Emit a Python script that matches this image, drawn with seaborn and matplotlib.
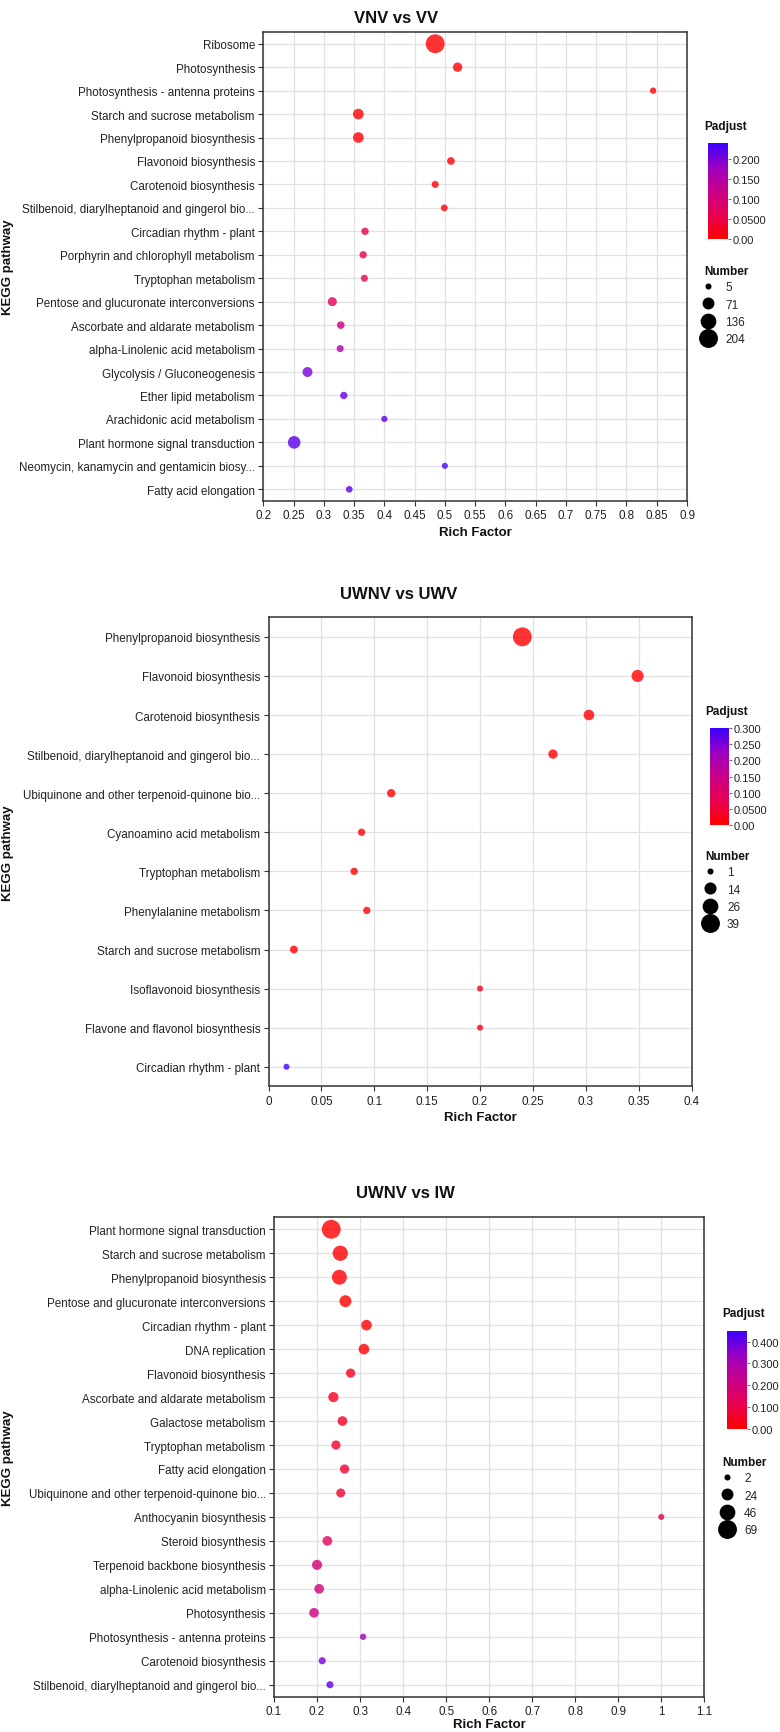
import numpy as np
import pandas as pd
import matplotlib
matplotlib.use("Agg")
import matplotlib.pyplot as plt
import seaborn as sns
from matplotlib.colors import LinearSegmentedColormap, Normalize
from matplotlib.cm import ScalarMappable
from matplotlib.lines import Line2D
from matplotlib.ticker import FuncFormatter

# ---------------- DATA ----------------
# Panel 1: VNV vs VV
p1_title = "VNV vs VV"
p1_pathways = [
    "Ribosome", "Photosynthesis", "Photosynthesis - antenna proteins",
    "Starch and sucrose metabolism", "Phenylpropanoid biosynthesis",
    "Flavonoid biosynthesis", "Carotenoid biosynthesis",
    "Stilbenoid, diarylheptanoid and gingerol bio...", "Circadian rhythm - plant",
    "Porphyrin and chlorophyll metabolism", "Tryptophan metabolism",
    "Pentose and glucuronate interconversions", "Ascorbate and aldarate metabolism",
    "alpha-Linolenic acid metabolism", "Glycolysis / Gluconeogenesis",
    "Ether lipid metabolism", "Arachidonic acid metabolism",
    "Plant hormone signal transduction", "Neomycin, kanamycin and gentamicin biosy...",
    "Fatty acid elongation",
]
p1_rich = [0.484, 0.521, 0.844, 0.357, 0.357, 0.510, 0.484, 0.499, 0.368, 0.365,
           0.367, 0.314, 0.328, 0.327, 0.273, 0.333, 0.400, 0.251, 0.500, 0.342]
p1_number = [204, 36, 7, 53, 53, 19, 13, 11, 16, 16, 13, 33, 19, 14, 44, 16, 7, 81, 5, 10]
p1_padj = [0.0, 0.0, 0.001, 0.002, 0.002, 0.003, 0.005, 0.006, 0.060, 0.062,
           0.063, 0.070, 0.120, 0.150, 0.200, 0.210, 0.220, 0.220, 0.230, 0.220]
p1_xticks = [0.2, 0.25, 0.3, 0.35, 0.4, 0.45, 0.5, 0.55, 0.6, 0.65, 0.7, 0.75, 0.8, 0.85, 0.9]
p1_padj_max = 0.24
p1_cbar_ticks = [0.0, 0.05, 0.1, 0.15, 0.2]
p1_cbar_labels = ["0.00", "0.0500", "0.100", "0.150", "0.200"]
p1_size_range = (5, 204)
p1_size_legend = [5, 71, 136, 204]

# Panel 2: UWNV vs UWV
p2_title = "UWNV vs UWV"
p2_pathways = [
    "Phenylpropanoid biosynthesis", "Flavonoid biosynthesis", "Carotenoid biosynthesis",
    "Stilbenoid, diarylheptanoid and gingerol bio...",
    "Ubiquinone and other terpenoid-quinone bio...", "Cyanoamino acid metabolism",
    "Tryptophan metabolism", "Phenylalanine metabolism", "Starch and sucrose metabolism",
    "Isoflavonoid biosynthesis", "Flavone and flavonol biosynthesis",
    "Circadian rhythm - plant",
]
p2_rich = [0.240, 0.349, 0.303, 0.269, 0.116, 0.088, 0.081, 0.093, 0.024, 0.200, 0.200, 0.017]
p2_number = [39, 14, 10, 7, 5, 3, 3, 3, 4, 1, 1, 1]
p2_padj = [0.0, 0.0, 0.0, 0.001, 0.002, 0.004, 0.004, 0.005, 0.006, 0.030, 0.030, 0.290]
p2_xticks = [0, 0.05, 0.1, 0.15, 0.2, 0.25, 0.3, 0.35, 0.4]
p2_padj_max = 0.30
p2_cbar_ticks = [0.0, 0.05, 0.1, 0.15, 0.2, 0.25, 0.3]
p2_cbar_labels = ["0.00", "0.0500", "0.100", "0.150", "0.200", "0.250", "0.300"]
p2_size_range = (1, 39)
p2_size_legend = [1, 14, 26, 39]

# Panel 3: UWNV vs IW
p3_title = "UWNV vs IW"
p3_pathways = [
    "Plant hormone signal transduction", "Starch and sucrose metabolism",
    "Phenylpropanoid biosynthesis", "Pentose and glucuronate interconversions",
    "Circadian rhythm - plant", "DNA replication", "Flavonoid biosynthesis",
    "Ascorbate and aldarate metabolism", "Galactose metabolism", "Tryptophan metabolism",
    "Fatty acid elongation", "Ubiquinone and other terpenoid-quinone bio...",
    "Anthocyanin biosynthesis", "Steroid biosynthesis", "Terpenoid backbone biosynthesis",
    "alpha-Linolenic acid metabolism", "Photosynthesis", "Photosynthesis - antenna proteins",
    "Carotenoid biosynthesis", "Stilbenoid, diarylheptanoid and gingerol bio...",
]
p3_rich = [0.233, 0.254, 0.252, 0.266, 0.315, 0.309, 0.278, 0.238, 0.259, 0.244,
           0.264, 0.255, 1.000, 0.224, 0.200, 0.205, 0.193, 0.307, 0.212, 0.230]
p3_number = [69, 43, 41, 24, 18, 18, 12, 16, 14, 12, 12, 11, 2, 14, 16, 14, 14, 3, 5, 5]
p3_padj = [0.0, 0.0, 0.0, 0.002, 0.005, 0.008, 0.040, 0.040, 0.050, 0.060,
           0.060, 0.065, 0.100, 0.140, 0.190, 0.200, 0.210, 0.300, 0.380, 0.410]
p3_xticks = [0.1, 0.2, 0.3, 0.4, 0.5, 0.6, 0.7, 0.8, 0.9, 1.0, 1.1]
p3_padj_max = 0.45
p3_cbar_ticks = [0.0, 0.1, 0.2, 0.3, 0.4]
p3_cbar_labels = ["0.00", "0.100", "0.200", "0.300", "0.400"]
p3_size_range = (2, 69)
p3_size_legend = [2, 24, 46, 69]

# ---------------- STYLE ----------------
sns.set_theme(style="white")
plt.rcParams["font.family"] = ["Liberation Sans", "DejaVu Sans"]

W, H = 780, 1733
fig = plt.figure(figsize=(W / 100, H / 100), dpi=100)

cmap = LinearSegmentedColormap.from_list(
    "padj", ["#FF0000", "#E80050", "#C90089", "#9A00C3", "#3A00FF"])
SIZES = (19, 185)  # marker area range in pt^2
DARK = "#333333"


def fx(px):
    return px / W


def fy(py):
    return 1 - py / H


def rect(l, t, r, b):
    return [l / W, 1 - b / H, (r - l) / W, (b - t) / H]


layouts = [
    dict(ax=(263.3, 33, 687, 502), title=(396, 23.3), padj_title=(704, 130), xlab_off=33.7,
         cbar=(708, 144, 728, 240), num_title=(704, 275), leg_x=708.3, leg_y=289, leg_tx=725),
    dict(ax=(268.5, 618.3, 691.5, 1087.3), title=(399, 599.3), padj_title=(705.7, 715), xlab_off=33.7,
         cbar=(710, 729, 729, 826), num_title=(705.7, 860), leg_x=710, leg_y=874, leg_tx=727),
    dict(ax=(274, 1218.3, 704.3, 1697.7), title=(405, 1198), padj_title=(722.7, 1317.3), xlab_off=30.5,
         cbar=(727.3, 1331.7, 747, 1430), num_title=(722.7, 1465.7), leg_x=727.3, leg_y=1480, leg_tx=744),
]

panels = [
    (p1_title, p1_pathways, p1_rich, p1_number, p1_padj, p1_xticks, p1_padj_max,
     p1_cbar_ticks, p1_cbar_labels, p1_size_range, p1_size_legend),
    (p2_title, p2_pathways, p2_rich, p2_number, p2_padj, p2_xticks, p2_padj_max,
     p2_cbar_ticks, p2_cbar_labels, p2_size_range, p2_size_legend),
    (p3_title, p3_pathways, p3_rich, p3_number, p3_padj, p3_xticks, p3_padj_max,
     p3_cbar_ticks, p3_cbar_labels, p3_size_range, p3_size_legend),
]

fmt = FuncFormatter(lambda v, pos: f"{v:g}")

for (title, paths, rich, num, padj, xticks, vmax, cticks, clabels, srange, sleg), lay in zip(panels, layouts):
    l, t, r, b = lay["ax"]
    ax = fig.add_axes(rect(l, t, r, b))
    df = pd.DataFrame({"Pathway": paths, "Rich Factor": rich, "Number": num, "Padjust": padj})
    norm = Normalize(0, vmax)
    sns.scatterplot(data=df, x="Rich Factor", y="Pathway", hue="Padjust", hue_norm=norm,
                    palette=cmap, size="Number", size_norm=srange, sizes=SIZES,
                    alpha=0.8, edgecolor="none", linewidth=0, legend=False, ax=ax, zorder=3)
    n = len(paths)
    ax.set_ylim(n - 0.5, -0.5)
    ax.set_xlim(xticks[0], xticks[-1])
    ax.set_xticks(xticks)
    ax.xaxis.set_major_formatter(fmt)
    ax.grid(True, color="#E1E1E1", linewidth=0.9)
    ax.set_axisbelow(True)
    for s in ax.spines.values():
        s.set_color(DARK)
        s.set_linewidth(1.1)
    ax.tick_params(axis="both", which="major", length=3.5, width=0.8, color=DARK,
                   labelsize=8.4, pad=2.5, labelcolor="#222222", left=True, bottom=True)

    width_px = r - l
    height_px = b - t
    ax.set_xlabel("Rich Factor", fontsize=9.5, fontweight="bold", color="#111111")
    ax.xaxis.label.set_va("baseline")
    ax.xaxis.set_label_coords(0.5, -lay["xlab_off"] / height_px)
    ax.set_ylabel("KEGG pathway", fontsize=9.5, fontweight="bold", color="#111111")
    ax.yaxis.label.set_va("center")
    ax.yaxis.label.set_ha("center")
    ax.yaxis.set_label_coords((8 - l) / width_px, 0.5)

    tx, ty = lay["title"]
    fig.text(fx(tx), fy(ty), title, ha="center", va="baseline", fontsize=12,
             fontweight="bold", color="#111111")

    # colorbar legend
    px, py = lay["padj_title"]
    fig.text(fx(px), fy(py), "Padjust", ha="left", va="baseline", fontsize=8.5,
             fontweight="bold", color="#111111")
    cl, ct, cr, cb_ = lay["cbar"]
    cax = fig.add_axes(rect(cl, ct, cr, cb_))
    sm = ScalarMappable(norm=norm, cmap=cmap)
    cbar = fig.colorbar(sm, cax=cax)
    cbar.set_ticks(cticks)
    cbar.set_ticklabels(clabels)
    cbar.outline.set_visible(False)
    cax.tick_params(length=2, width=0.6, color="#555555", labelsize=8, pad=1,
                    labelcolor="#222222")

    # size legend
    nx, ny = lay["num_title"]
    fig.text(fx(nx), fy(ny), "Number", ha="left", va="baseline", fontsize=8.5,
             fontweight="bold", color="#111111")
    smin, smax = srange
    handles = []
    for v in sleg:
        area = SIZES[0] + (v - smin) / (smax - smin) * (SIZES[1] - SIZES[0])
        handles.append(Line2D([], [], marker="o", linestyle="", color="black",
                              markeredgewidth=0, markersize=np.sqrt(area)))
    fs = 8.5
    row_h = 13.5
    hl = 1.1
    anchor_x = lay["leg_x"] - hl * fs * (100 / 72) / 2
    pad = (lay["leg_tx"] - anchor_x - hl * fs * (100 / 72)) / (fs * 100 / 72)
    fig.legend(handles, [str(v) for v in sleg], loc="upper left",
               bbox_to_anchor=(fx(anchor_x), fy(lay["leg_y"] - row_h / 2)),
               bbox_transform=fig.transFigure, frameon=False, fontsize=fs,
               handlelength=hl, handletextpad=pad, labelspacing=0.45,
               borderpad=0, borderaxespad=0)

fig.savefig("out.png", dpi=100)
